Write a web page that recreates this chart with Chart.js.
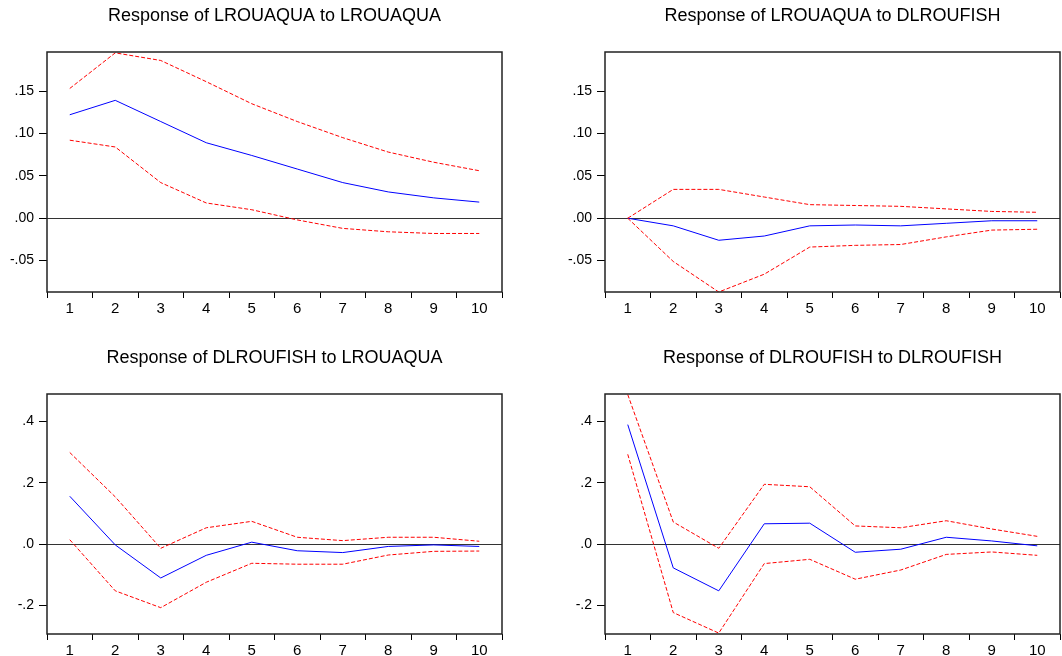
<!DOCTYPE html>
<html>
<head>
<meta charset="utf-8">
<script src="https://cdn.jsdelivr.net/npm/chart.js@4.4.1/dist/chart.umd.min.js"></script>
<style>
  html, body { margin: 0; padding: 0; background: #fff; }
  body { width: 1062px; height: 656px; position: relative; overflow: hidden; }
  canvas { position: absolute; }
</style>
</head>
<body>
<canvas id="c1" width="531" height="314" style="left:0;top:0"></canvas>
<canvas id="c2" width="531" height="314" style="left:531px;top:0"></canvas>
<canvas id="c3" width="531" height="314" style="left:0;top:342px"></canvas>
<canvas id="c4" width="531" height="314" style="left:531px;top:342px"></canvas>
<script>
// ---- data ----
const periods = ['1', '2', '3', '4', '5', '6', '7', '8', '9', '10'];

const titles = [
  'Response of LROUAQUA to LROUAQUA',
  'Response of LROUAQUA to DLROUFISH',
  'Response of DLROUFISH to LROUAQUA',
  'Response of DLROUFISH to DLROUFISH'
];

// Response of LROUAQUA to LROUAQUA
const aqAqResp  = [0.122, 0.139, 0.114, 0.089, 0.074, 0.058, 0.042, 0.031, 0.024, 0.019];
const aqAqUpper = [0.153, 0.195, 0.186, 0.161, 0.135, 0.114, 0.095, 0.078, 0.066, 0.056];
const aqAqLower = [0.092, 0.084, 0.042, 0.018, 0.010, -0.002, -0.012, -0.016, -0.018, -0.018];

// Response of LROUAQUA to DLROUFISH
const aqFiResp  = [0.000, -0.009, -0.026, -0.021, -0.009, -0.008, -0.009, -0.006, -0.003, -0.003];
const aqFiUpper = [0.000, 0.034, 0.034, 0.025, 0.016, 0.015, 0.014, 0.011, 0.008, 0.007];
const aqFiLower = [0.000, -0.051, -0.087, -0.066, -0.034, -0.032, -0.031, -0.022, -0.014, -0.013];

// Response of DLROUFISH to LROUAQUA
const fiAqResp  = [0.156, -0.003, -0.111, -0.037, 0.006, -0.022, -0.028, -0.008, -0.003, -0.008];
const fiAqUpper = [0.299, 0.154, -0.014, 0.053, 0.074, 0.022, 0.011, 0.022, 0.022, 0.009];
const fiAqLower = [0.014, -0.153, -0.208, -0.125, -0.063, -0.066, -0.066, -0.036, -0.024, -0.023];

// Response of DLROUFISH to DLROUFISH
const fiFiResp  = [0.390, -0.078, -0.153, 0.066, 0.068, -0.027, -0.017, 0.022, 0.010, -0.006];
const fiFiUpper = [0.488, 0.072, -0.014, 0.195, 0.187, 0.059, 0.053, 0.076, 0.049, 0.025];
const fiFiLower = [0.293, -0.224, -0.291, -0.064, -0.050, -0.115, -0.085, -0.034, -0.026, -0.037];

// tick values / labels
const topTickValues = [-0.05, 0, 0.05, 0.10, 0.15];
const topTickLabels = ['-.05', '.00', '.05', '.10', '.15'];
const bottomTickValues = [-0.2, 0, 0.2, 0.4];
const bottomTickLabels = ['-.2', '.0', '.2', '.4'];

// ---- drawing ----
const FONT = "'Liberation Sans', Arial, Helvetica, sans-serif";

const frame = {
  id: 'frame',
  afterDatasetsDraw(chart) {
    const a = chart.chartArea;
    const ctx = chart.ctx;
    ctx.save();
    ctx.strokeStyle = '#222';
    ctx.lineWidth = 1.5;
    ctx.strokeRect(a.left, a.top, a.right - a.left, a.bottom - a.top);
    ctx.restore();
  }
};

function makeChart(id, title, resp, upper, lower, yMin, yMax, tickVals, tickLabs, yWidth, padRight) {
  return new Chart(document.getElementById(id), {
    type: 'line',
    data: {
      labels: periods,
      datasets: [
        { data: upper, borderColor: '#ff0000', borderWidth: 1, borderDash: [4, 2], pointRadius: 0, tension: 0, fill: false },
        { data: lower, borderColor: '#ff0000', borderWidth: 1, borderDash: [4, 2], pointRadius: 0, tension: 0, fill: false },
        { data: resp,  borderColor: '#0000ff', borderWidth: 1, pointRadius: 0, tension: 0, fill: false }
      ]
    },
    options: {
      responsive: false,
      animation: false,
      events: [],
      layout: { padding: { left: 0, right: padRight, top: 0, bottom: 0 } },
      plugins: {
        legend: { display: false },
        tooltip: { enabled: false },
        title: {
          display: true,
          text: title,
          fullSize: false,
          color: '#000',
          font: { family: FONT, size: 18, weight: 'normal', lineHeight: 1 },
          padding: { top: 7, bottom: 27 }
        }
      },
      scales: {
        x: {
          type: 'category',
          offset: true,
          border: { display: false },
          grid: {
            offset: true,
            drawOnChartArea: false,
            drawTicks: true,
            tickLength: 6,
            color: '#000',
            tickColor: '#000',
            lineWidth: 1
          },
          ticks: {
            color: '#000',
            font: { family: FONT, size: 15 },
            padding: 2,
            maxRotation: 0,
            autoSkip: false
          },
          afterFit(scale) { scale.height = 22; }
        },
        y: {
          min: yMin,
          max: yMax,
          border: { display: false },
          grid: {
            drawTicks: true,
            tickLength: 8,
            lineWidth: 1,
            color: (c) => (c.tick && c.tick.value === 0 ? '#333' : 'rgba(0,0,0,0)'),
            tickColor: '#000'
          },
          ticks: {
            color: '#000',
            font: { family: FONT, size: 14 },
            padding: 5,
            callback: (v) => {
              const i = tickVals.indexOf(v);
              return i >= 0 ? tickLabs[i] : '';
            }
          },
          afterBuildTicks(scale) {
            scale.ticks = tickVals.map((v) => ({ value: v }));
          },
          afterFit(scale) { scale.width = yWidth; }
        }
      }
    },
    plugins: [frame]
  });
}

makeChart('c1', titles[0], aqAqResp, aqAqUpper, aqAqLower, -0.087, 0.196, topTickValues, topTickLabels, 47, 29);
makeChart('c2', titles[1], aqFiResp, aqFiUpper, aqFiLower, -0.087, 0.196, topTickValues, topTickLabels, 74, 2);
makeChart('c3', titles[2], fiAqResp, fiAqUpper, fiAqLower, -0.294, 0.49, bottomTickValues, bottomTickLabels, 47, 29);
makeChart('c4', titles[3], fiFiResp, fiFiUpper, fiFiLower, -0.294, 0.49, bottomTickValues, bottomTickLabels, 74, 2);
</script>
</body>
</html>
